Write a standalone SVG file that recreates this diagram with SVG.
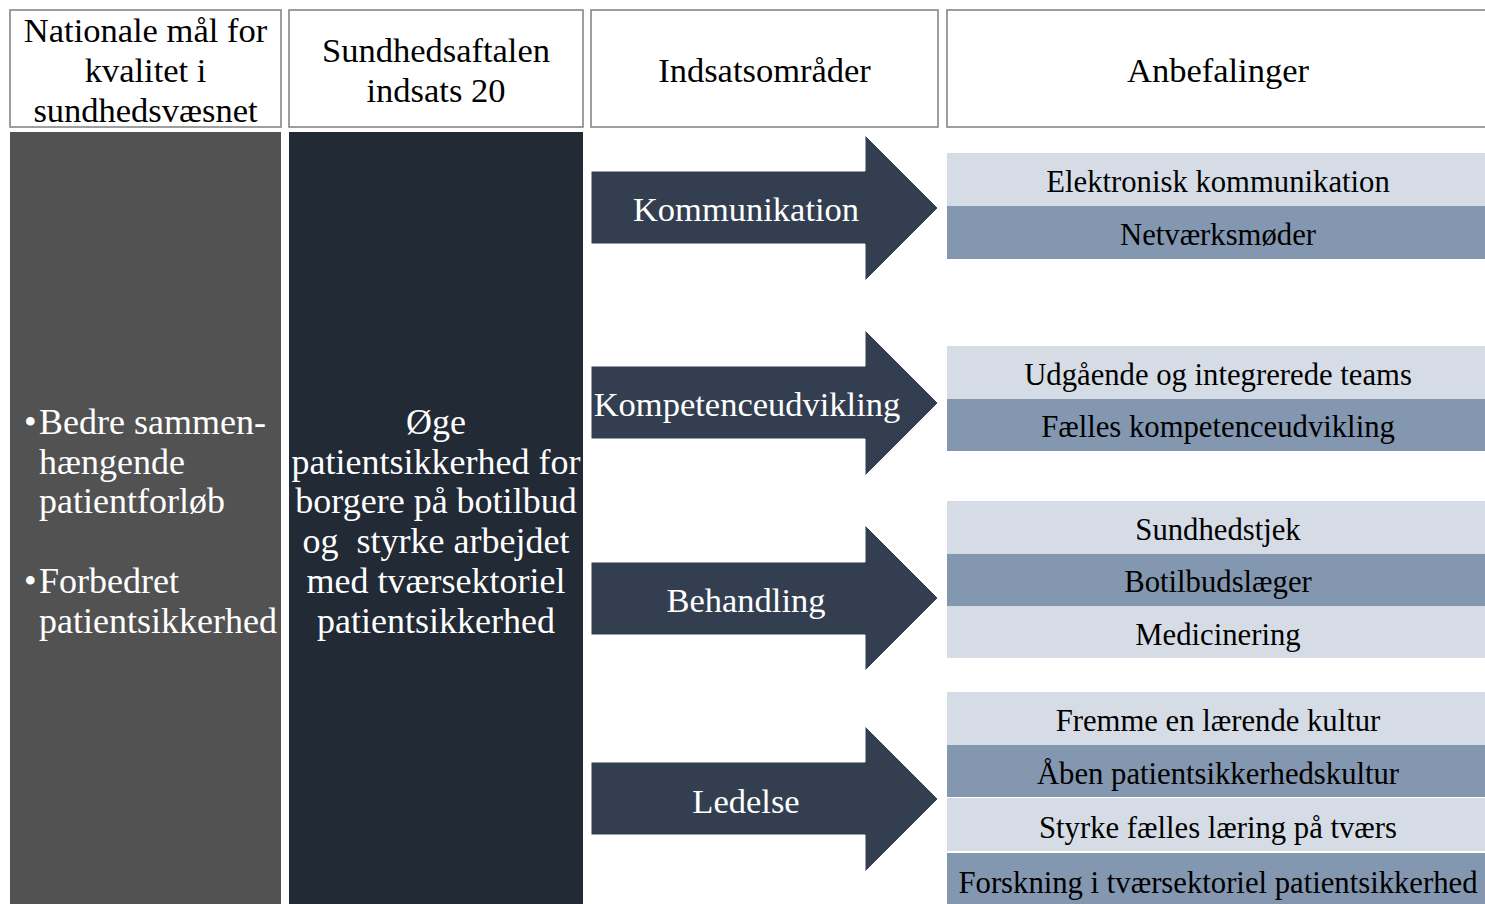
<svg xmlns="http://www.w3.org/2000/svg" width="1485" height="904" viewBox="0 0 1485 904">
<style>
.hdr{fill:#ffffff;stroke:#7f7f7f;stroke-width:1.5}
.ht{font-family:"Liberation Serif",serif;font-size:34.5px;fill:#000000;text-anchor:middle}
.wt{font-family:"Liberation Serif",serif;font-size:36px;fill:#ffffff}
.at{font-family:"Liberation Serif",serif;font-size:34.5px;fill:#ffffff;text-anchor:middle}
.arrow{fill:#333f50;stroke:#ffffff;stroke-width:1}
.lt{fill:#d6dce5}
.dk{fill:#8497b0}
.rt{font-family:"Liberation Serif",serif;font-size:30.7px;fill:#000000;text-anchor:middle}
</style>
<rect width="1485" height="904" fill="#ffffff"/>

<g id="header-nationale">
<rect class="hdr" x="10" y="10" width="271" height="117"/>
<text class="ht" x="145.5" y="42">Nationale mål for</text>
<text class="ht" x="145.5" y="82">kvalitet i</text>
<text class="ht" x="145.5" y="122">sundhedsvæsnet</text>
</g>
<g id="header-sundhedsaftalen">
<rect class="hdr" x="289" y="10" width="294" height="117"/>
<text class="ht" x="436" y="62">Sundhedsaftalen</text>
<text class="ht" x="436" y="102">indsats 20</text>
</g>
<g id="header-indsatsomraader">
<rect class="hdr" x="591" y="10" width="347" height="117"/>
<text class="ht" x="764.5" y="82">Indsatsområder</text>
</g>
<g id="header-anbefalinger">
<rect class="hdr" x="947" y="10" width="545" height="117"/>
<text class="ht" x="1218" y="82">Anbefalinger</text>
</g>

<g id="col-nationale">
<rect x="10" y="132" width="271" height="772" fill="#525252"/>
<text class="wt" x="24" y="434">•</text>
<text class="wt" x="39" y="434">Bedre sammen-</text>
<text class="wt" x="39" y="474">hængende</text>
<text class="wt" x="39" y="513">patientforløb</text>
<text class="wt" x="24" y="593">•</text>
<text class="wt" x="39" y="593">Forbedret</text>
<text class="wt" x="39" y="633">patientsikkerhed</text>
</g>
<g id="col-sundhedsaftalen">
<rect x="289" y="132" width="294" height="772" fill="#222a35"/>
<g class="wt" text-anchor="middle">
<text x="436" y="434">Øge</text>
<text x="436" y="474">patientsikkerhed for</text>
<text x="436" y="513">borgere på botilbud</text>
<text x="436" y="553" xml:space="preserve">og  styrke arbejdet</text>
<text x="436" y="593">med tværsektoriel</text>
<text x="436" y="633">patientsikkerhed</text>
</g>
</g>

<g id="connectors">
<g id="arrow-kommunikation">
<path class="arrow" d="M591,171 H865 V135 L938,208 L865,281 V244 H591 Z"/>
<text class="at" x="746" y="221">Kommunikation</text>
</g>
<g id="arrow-kompetenceudvikling">
<path class="arrow" d="M591,366 H865 V330 L938,403 L865,476 V439 H591 Z"/>
<text class="at" x="747" y="416">Kompetenceudvikling</text>
</g>
<g id="arrow-behandling">
<path class="arrow" d="M591,562 H865 V525 L938,598 L865,671 V635 H591 Z"/>
<text class="at" x="746" y="612">Behandling</text>
</g>
<g id="arrow-ledelse">
<path class="arrow" d="M591,762 H865 V726 L938,799 L865,872 V835 H591 Z"/>
<text class="at" x="746" y="813">Ledelse</text>
</g>
</g>

<g id="rec-kommunikation">
<rect class="lt" x="947" y="153" width="538" height="53"/>
<text class="rt" x="1218" y="192">Elektronisk kommunikation</text>
<rect class="dk" x="947" y="206" width="538" height="53"/>
<text class="rt" x="1218" y="245">Netværksmøder</text>
</g>
<g id="rec-kompetence">
<rect class="lt" x="947" y="346" width="538" height="53"/>
<text class="rt" x="1218" y="385">Udgående og integrerede teams</text>
<rect class="dk" x="947" y="399" width="538" height="52"/>
<text class="rt" x="1218" y="437">Fælles kompetenceudvikling</text>
</g>
<g id="rec-behandling">
<rect class="lt" x="947" y="501" width="538" height="53"/>
<text class="rt" x="1218" y="540">Sundhedstjek</text>
<rect class="dk" x="947" y="554" width="538" height="52"/>
<text class="rt" x="1218" y="592">Botilbudslæger</text>
<rect class="lt" x="947" y="606" width="538" height="52"/>
<text class="rt" x="1218" y="645">Medicinering</text>
</g>
<g id="rec-ledelse">
<rect class="lt" x="947" y="692" width="538" height="53"/>
<text class="rt" x="1218" y="731">Fremme en lærende kultur</text>
<rect class="dk" x="947" y="745" width="538" height="52"/>
<text class="rt" x="1218" y="784">Åben patientsikkerhedskultur</text>
<rect class="lt" x="947" y="798" width="538" height="53"/>
<text class="rt" x="1218" y="838">Styrke fælles læring på tværs</text>
<rect class="dk" x="947" y="853" width="538" height="51"/>
<text class="rt" x="1218" y="893">Forskning i tværsektoriel patientsikkerhed</text>
</g>
</svg>
